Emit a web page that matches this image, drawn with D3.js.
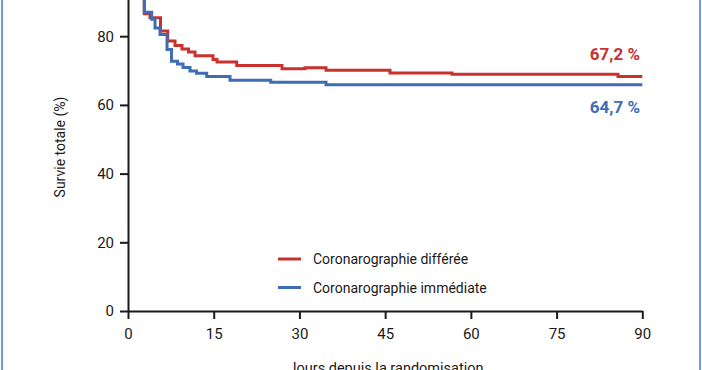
<!DOCTYPE html>
<html>
<head>
<meta charset="utf-8">
<script src="https://cdn.jsdelivr.net/npm/d3@7"></script>
<style>
  html, body { margin: 0; padding: 0; background: #fff; overflow: hidden; }
  svg { display: block; font-family: Roboto, "DejaVu Sans", sans-serif; }
</style>
</head>
<body>
<script>
// Data
const xTicks = [0, 15, 30, 45, 60, 75, 90];
const yTicks = [0, 20, 40, 60, 80];

const daysRed = [0, 2.85, 3.85, 5.69, 6.95, 8.23, 9.45, 10.59, 11.73, 14.88, 15.58, 19.02, 26.95, 30.98, 34.65, 45.85, 56.7, 85.75, 90];
const survRed = [100, 86.5, 85.4, 81.5, 78.6, 77.3, 76.3, 75.4, 74.3, 73.2, 72.5, 71.5, 70.5, 70.8, 70.1, 69.3, 68.9, 68.3, 68.3];

const daysBlue = [0, 2.85, 4.15, 4.73, 5.6, 6.83, 7.61, 8.66, 9.63, 10.85, 11.99, 13.77, 17.85, 24.97, 34.65, 90];
const survBlue = [100, 87.0, 84.9, 82.4, 80.5, 76.1, 72.7, 71.9, 70.9, 69.9, 69.2, 68.3, 67.2, 66.6, 65.9, 65.9];

const seriesNames = ["Coronarographie différée", "Coronarographie immédiate"];
const endLabels = ["67,2 %", "64,7 %"];
const colors = ["#c8312c", "#3e6db4"];

const W = 702, H = 370;
const svg = d3.select("body").append("svg").attr("width", W).attr("height", H);

// frame borders
svg.append("rect").attr("x", 0).attr("y", 0).attr("width", W).attr("height", H).attr("fill", "#fff");
svg.append("line").attr("x1", 2).attr("x2", 2).attr("y1", 0).attr("y2", H).attr("stroke", "#6d9dd8").attr("stroke-width", 2);
svg.append("line").attr("x1", 700).attr("x2", 700).attr("y1", 0).attr("y2", H).attr("stroke", "#6d9dd8").attr("stroke-width", 2);

const x = d3.scaleLinear().domain([0, 90]).range([128, 642.3]);
const y = d3.scaleLinear().domain([0, 100]).range([311, -32.5]);

const line = d3.line().x(d => x(d[0])).y(d => y(d[1])).curve(d3.curveStepAfter);
const dataRed = daysRed.map((d, i) => [d, survRed[i]]);
const dataBlue = daysBlue.map((d, i) => [d, survBlue[i]]);

// axes
const ax = svg.append("g").attr("transform", `translate(0,${y(0)})`)
  .call(d3.axisBottom(x).tickValues(xTicks).tickSize(8).tickSizeOuter(0).tickPadding(9));
const ay = svg.append("g").attr("transform", `translate(${x(0)},0)`)
  .call(d3.axisLeft(y).tickValues(yTicks).tickSize(8).tickSizeOuter(0).tickPadding(6));
[ax, ay].forEach(g => {
  g.select(".domain").attr("stroke", "#1a1a1a").attr("stroke-width", 2);
  g.selectAll(".tick line").attr("stroke", "#1a1a1a").attr("stroke-width", 2);
  g.selectAll(".tick text").attr("fill", "#1a1a1a").style("font-size", "15px").style("font-family", "Roboto, sans-serif");
});

svg.append("path").datum(dataRed).attr("d", line).attr("fill", "none")
  .attr("stroke", colors[0]).attr("stroke-width", 3);
svg.append("path").datum(dataBlue).attr("d", line).attr("fill", "none")
  .attr("stroke", colors[1]).attr("stroke-width", 3);

// axis titles
svg.append("text").attr("transform", `translate(65,147) rotate(-90)`)
  .attr("text-anchor", "middle").style("font-size", "14px").attr("fill", "#1a1a1a")
  .text("Survie totale (%)");
svg.append("text").attr("x", 386).attr("y", 373).attr("text-anchor", "middle")
  .style("font-size", "14.5px").attr("fill", "#1a1a1a").text("Jours depuis la randomisation");

// end labels
svg.append("text").attr("x", 640).attr("y", 59.5).attr("text-anchor", "end")
  .style("font-size", "17px").style("font-weight", "bold").attr("fill", colors[0]).text(endLabels[0]);
svg.append("text").attr("x", 640).attr("y", 112.5).attr("text-anchor", "end")
  .style("font-size", "17px").style("font-weight", "bold").attr("fill", colors[1]).text(endLabels[1]);

// legend
const legY = [259, 287.5];
seriesNames.forEach((n, i) => {
  svg.append("line").attr("x1", 278).attr("x2", 301).attr("y1", legY[i]).attr("y2", legY[i])
    .attr("stroke", colors[i]).attr("stroke-width", 3);
  svg.append("text").attr("x", 313).attr("y", legY[i] + 5).style("font-size", "14px")
    .attr("fill", "#1a1a1a").text(n);
});
</script>
</body>
</html>
